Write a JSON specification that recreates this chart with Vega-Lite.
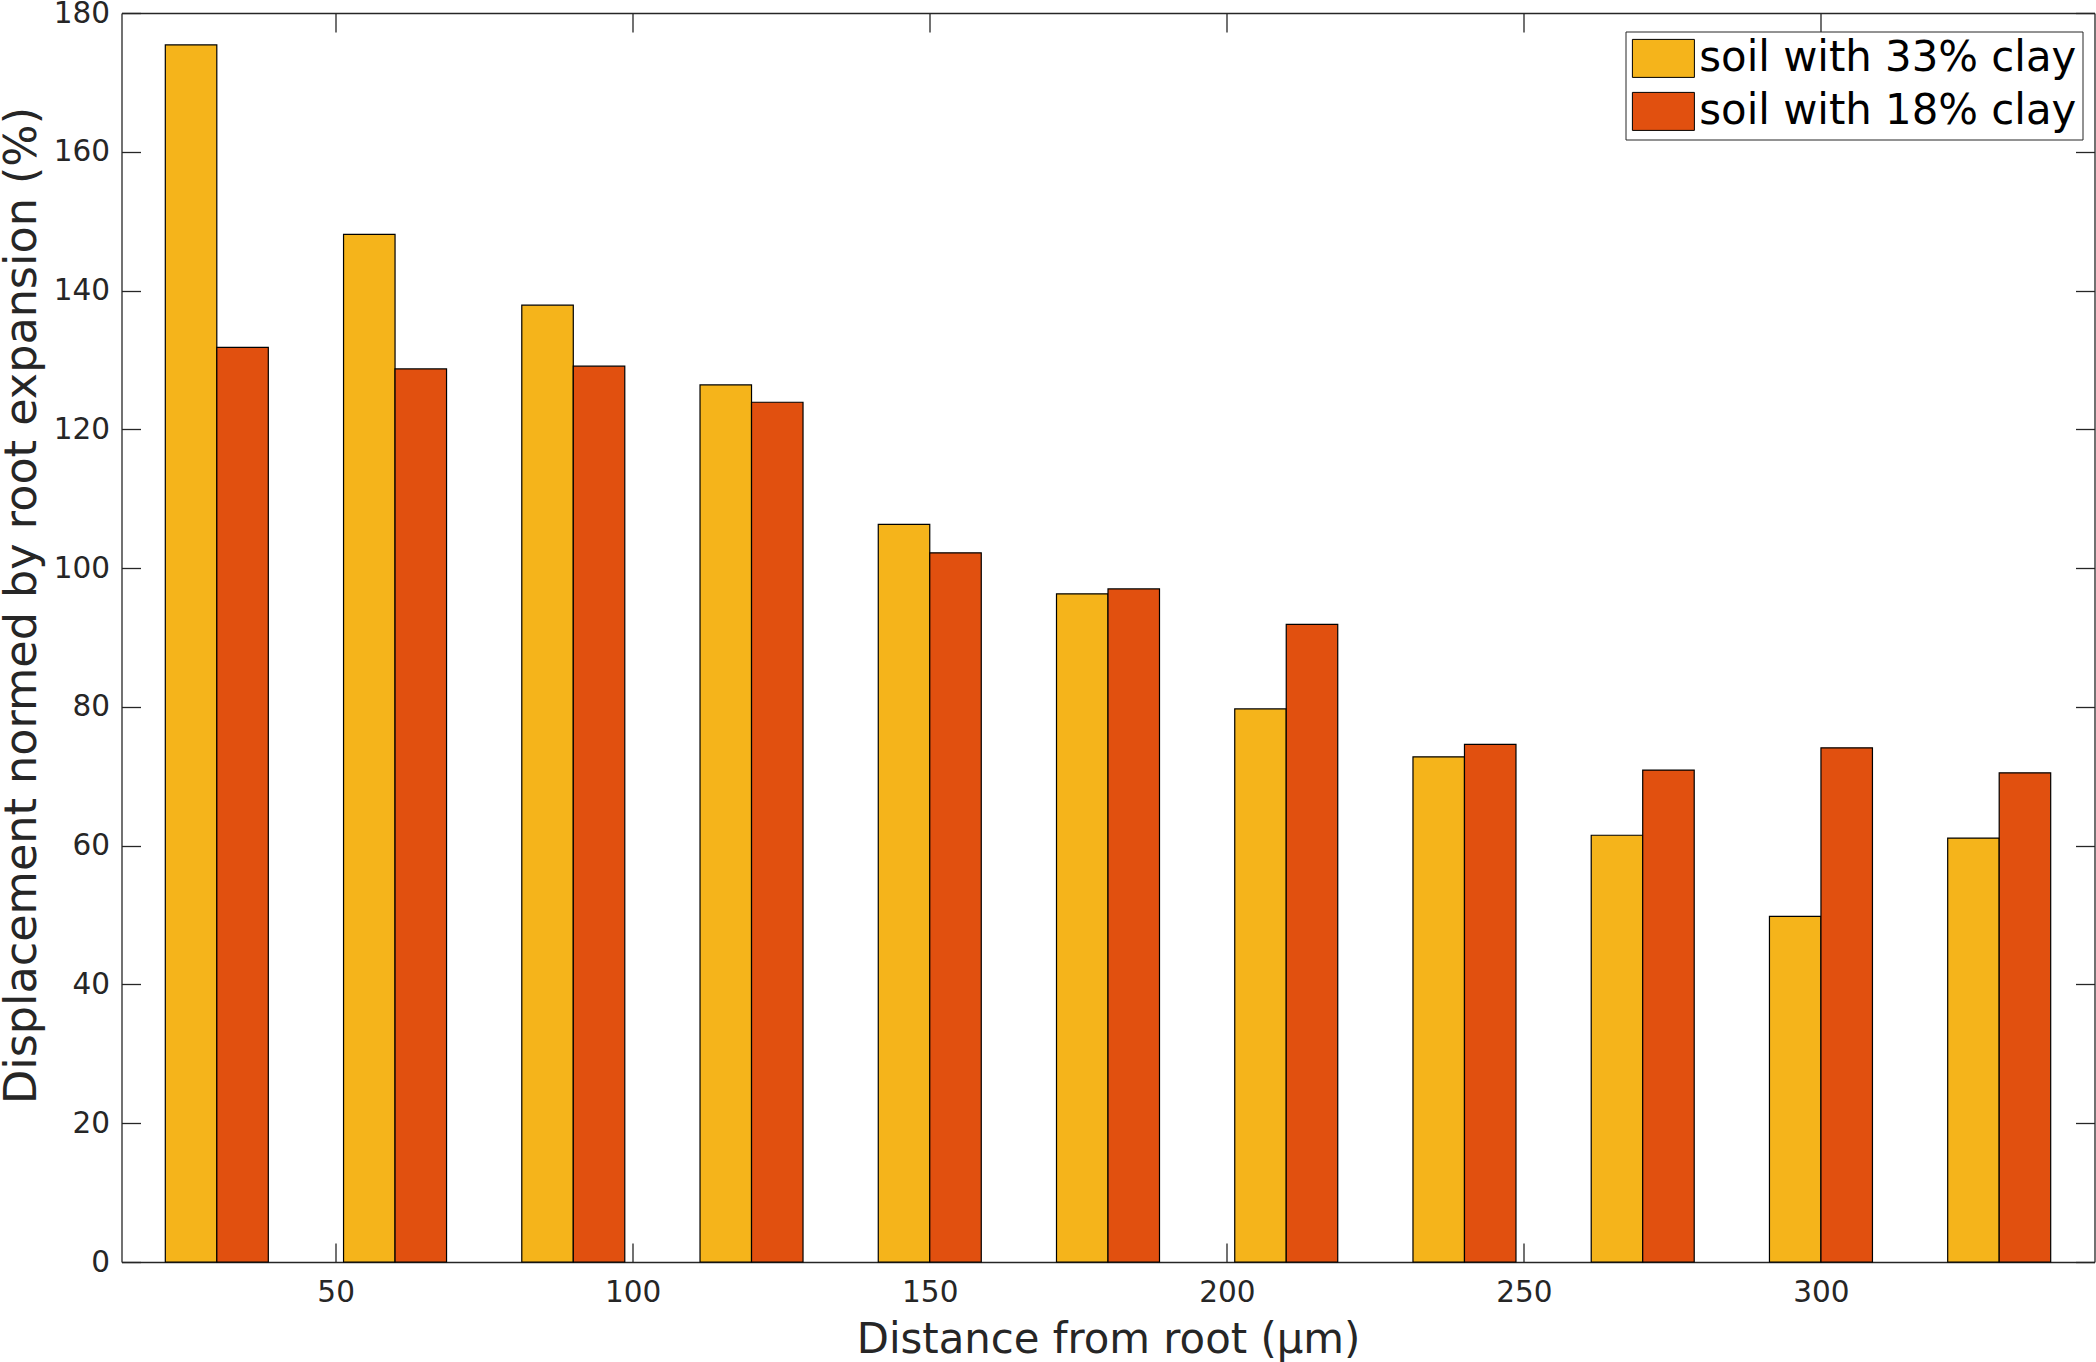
{
  "$schema": "https://vega.github.io/schema/vega-lite/v6.json",
  "width": 1973,
  "height": 1249,
  "autosize": {"type": "none"},
  "padding": {"left": 121.5, "top": 13, "right": 1.5, "bottom": 100},
  "config": {
    "view": {"stroke": null},
    "font": "DejaVu Sans",
    "axis": {
      "grid": false,
      "domainColor": "#262626",
      "domainWidth": 1.3,
      "tickColor": "#262626",
      "tickWidth": 1.3,
      "labelColor": "#262626",
      "labelFont": "DejaVu Sans",
      "labelFontSize": 29.5,
      "titleColor": "#262626",
      "titleFont": "DejaVu Sans",
      "titleFontWeight": "normal"
    }
  },
  "data": {
    "values": [
      {"distance": 30, "soil": "soil with 33% clay", "value": 175.4},
      {"distance": 30, "soil": "soil with 18% clay", "value": 131.8},
      {"distance": 60, "soil": "soil with 33% clay", "value": 148.1},
      {"distance": 60, "soil": "soil with 18% clay", "value": 128.7},
      {"distance": 90, "soil": "soil with 33% clay", "value": 137.9},
      {"distance": 90, "soil": "soil with 18% clay", "value": 129.1},
      {"distance": 120, "soil": "soil with 33% clay", "value": 126.4},
      {"distance": 120, "soil": "soil with 18% clay", "value": 123.9},
      {"distance": 150, "soil": "soil with 33% clay", "value": 106.3},
      {"distance": 150, "soil": "soil with 18% clay", "value": 102.2},
      {"distance": 180, "soil": "soil with 33% clay", "value": 96.3},
      {"distance": 180, "soil": "soil with 18% clay", "value": 97.0},
      {"distance": 210, "soil": "soil with 33% clay", "value": 79.7},
      {"distance": 210, "soil": "soil with 18% clay", "value": 91.9},
      {"distance": 240, "soil": "soil with 33% clay", "value": 72.8},
      {"distance": 240, "soil": "soil with 18% clay", "value": 74.6},
      {"distance": 270, "soil": "soil with 33% clay", "value": 61.5},
      {"distance": 270, "soil": "soil with 18% clay", "value": 70.9},
      {"distance": 300, "soil": "soil with 33% clay", "value": 49.8},
      {"distance": 300, "soil": "soil with 18% clay", "value": 74.1},
      {"distance": 330, "soil": "soil with 33% clay", "value": 61.1},
      {"distance": 330, "soil": "soil with 18% clay", "value": 70.5}
    ]
  },
  "layer": [
    {
      "transform": [{"filter": "datum.soil == 'soil with 33% clay'"}],
      "mark": {"type": "bar", "width": 51.5, "xOffset": -25.75, "stroke": "black", "strokeWidth": 1.2},
      "encoding": {
        "x": {
          "field": "distance",
          "type": "quantitative",
          "scale": {"domain": [14.8, 345.2], "nice": false, "zero": false},
          "axis": {
            "orient": "bottom",
            "values": [50, 100, 150, 200, 250, 300],
            "tickSize": -19,
            "labelPadding": 35,
            "title": "Distance from root (µm)",
            "titleFontSize": 41.8,
            "titlePadding": 13
          }
        },
        "y": {
          "field": "value",
          "type": "quantitative",
          "scale": {"domain": [0, 180], "nice": false},
          "axis": {
            "orient": "left",
            "values": [0, 20, 40, 60, 80, 100, 120, 140, 160, 180],
            "tickSize": -19,
            "labelPadding": 31,
            "title": "Displacement normed by root expansion (%)",
            "titleFontSize": 44.5,
            "titleBaseline": "alphabetic",
            "titleAngle": -90,
            "titleX": -86.5,
            "titleY": 592
          }
        },
        "color": {
          "field": "soil",
          "type": "nominal",
          "scale": {
            "domain": ["soil with 33% clay", "soil with 18% clay"],
            "range": ["#F5B41B", "#E1500F"]
          },
          "legend": {
            "orient": "none",
            "legendX": 1504,
            "legendY": 18.5,
            "title": null,
            "labelFont": "DejaVu Sans",
            "labelFontSize": 41.8,
            "labelColor": "black",
            "labelLimit": 1000,
            "labelOffset": 26,
            "symbolType": "M-1,-0.95H2.1V0.95H-1Z",
            "symbolSize": 1600,
            "symbolStrokeColor": "black",
            "symbolStrokeWidth": 1,
            "symbolOpacity": 1,
            "strokeColor": "#262626",
            "fillColor": "white",
            "padding": 6,
            "rowPadding": 9
          }
        }
      }
    },
    {
      "transform": [{"filter": "datum.soil == 'soil with 18% clay'"}],
      "mark": {"type": "bar", "width": 51.5, "xOffset": 25.75, "stroke": "black", "strokeWidth": 1.2},
      "encoding": {
        "x": {"field": "distance", "type": "quantitative", "axis": null},
        "y": {"field": "value", "type": "quantitative", "axis": null},
        "color": {"field": "soil", "type": "nominal"}
      }
    },
    {
      "mark": {"type": "point", "opacity": 0},
      "encoding": {
        "x": {
          "field": "distance",
          "type": "quantitative",
          "axis": {"orient": "top", "values": [50, 100, 150, 200, 250, 300], "tickSize": -19, "labels": false, "title": null}
        },
        "y": {
          "field": "value",
          "type": "quantitative",
          "axis": {"orient": "right", "values": [0, 20, 40, 60, 80, 100, 120, 140, 160, 180], "tickSize": -19, "labels": false, "title": null}
        }
      }
    }
  ]
}
